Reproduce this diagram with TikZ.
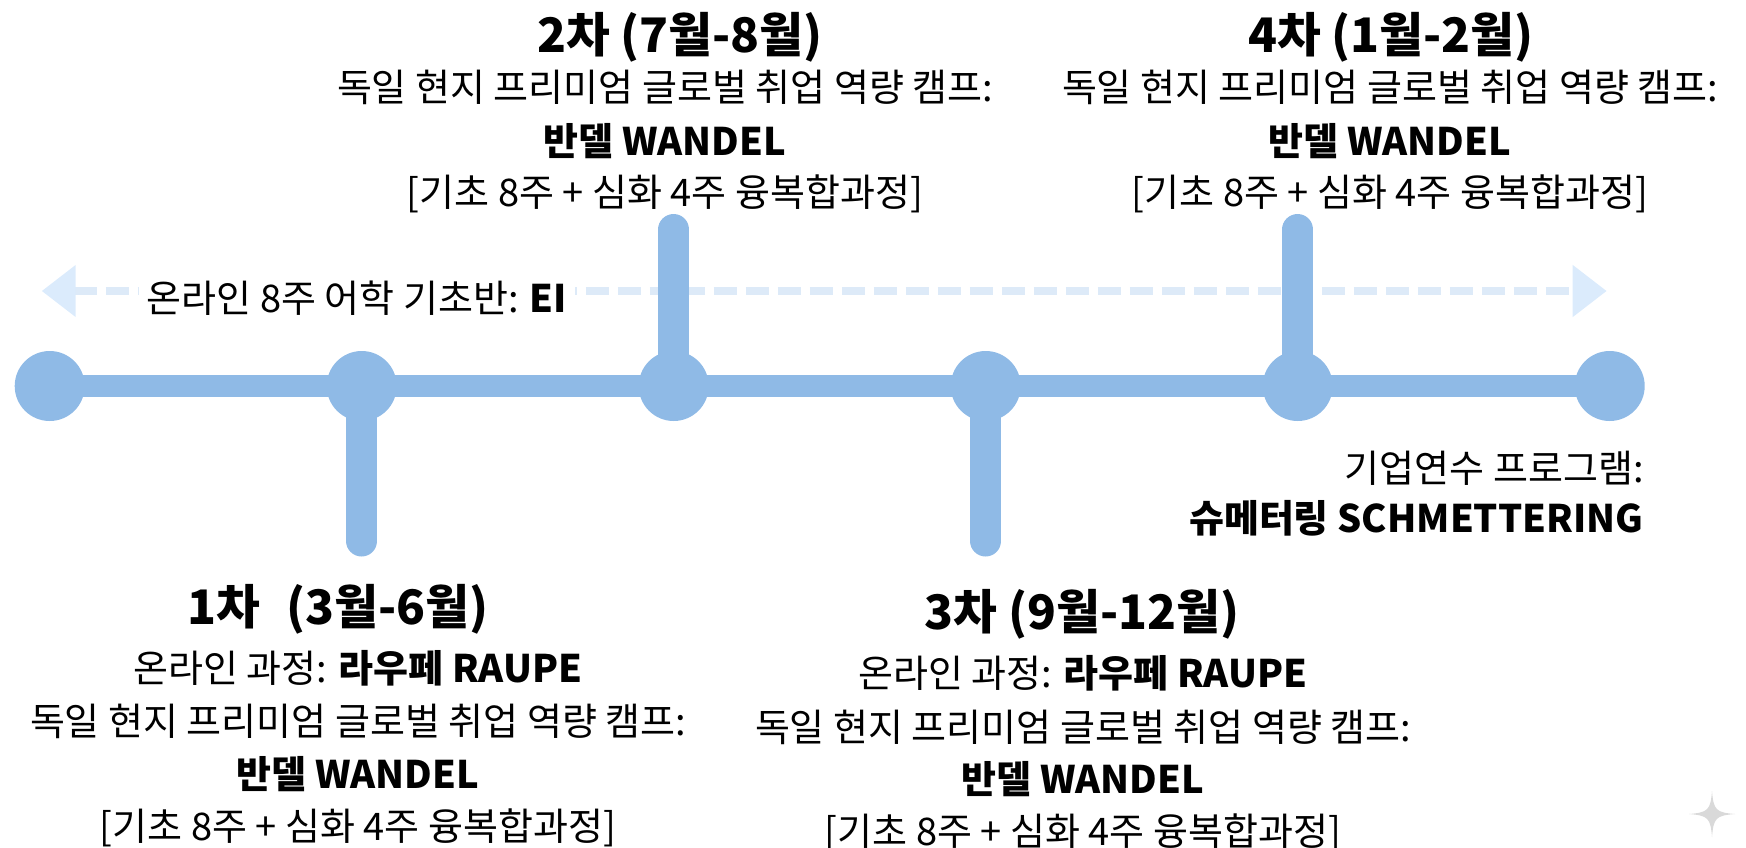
\documentclass[tikz,border=0pt]{standalone}
\usepackage{fontspec}
\setmainfont{Noto Sans CJK KR}
\usetikzlibrary{arrows.meta}
\definecolor{tl}{RGB}{143,186,230}
\definecolor{dashc}{RGB}{221,234,248}
\definecolor{tipc}{RGB}{219,235,252}
\definecolor{spark}{RGB}{217,217,217}
\tikzset{
  dot/.style={circle,fill=tl,inner sep=0pt,minimum size=35pt},
  mainline/.style={draw=tl,line width=11pt},
  stem/.style={draw=tl,line width=15.5pt,line cap=round},
  head/.style={anchor=base,inner sep=0pt,font=\fontsize{23.8pt}{28pt}\selectfont\bfseries},
  body/.style={anchor=base,inner sep=0pt,font=\fontsize{19pt}{22pt}\selectfont},
  bodyr/.style={anchor=base east,inner sep=0pt,font=\fontsize{19pt}{22pt}\selectfont},
}
\begin{document}
\begin{tikzpicture}[x=0.5pt,y=-0.5pt]
\useasboundingbox (0,0) rectangle (1746,847);
% dashed arrow
\coordinate (al) at (41.7,291);
\coordinate (ar) at (1606.7,291);
\draw[dashc,line width=4pt,dash pattern=on 11.5pt off 4.5pt,
  {Triangle[length=17pt,width=25pt,fill=tipc,color=tipc]}-{Triangle[length=17pt,width=25pt,fill=tipc,color=tipc]}] (al) -- (ar);
\node[body,fill=white,inner xsep=4pt,inner ysep=2pt,anchor=base] (ei) at (357,312) {온라인 8주 어학 기초반: \textbf{EI}};
% timeline
\foreach \i/\x in {1/49.7,2/361.7,3/673.7,4/985.7,5/1297.7,6/1609.7}{
  \coordinate (p\i) at (\x,386);
}
\coordinate (s2) at (361.7,541);
\coordinate (s3) at (673.7,229.5);
\coordinate (s4) at (985.7,541);
\coordinate (s5) at (1297.7,229.5);
\draw[mainline] (p1) -- (p6);
\draw[stem] (p2) -- (s2);
\draw[stem] (p3) -- (s3);
\draw[stem] (p4) -- (s4);
\draw[stem] (p5) -- (s5);
\foreach \i in {1,...,6}{ \node[dot] (c\i) at (p\i) {}; }
% group 2 (top)
\node[head] (g2h) at (680,52) {2차 (7월-8월)};
\node[body] (g2a) at (665,101) {독일 현지 프리미엄 글로벌 취업 역량 캠프:};
\node[body] (g2b) at (665,155) {\textbf{반델 WANDEL}};
\node[body] (g2c) at (665,206) {[기초 8주 + 심화 4주 융복합과정]};
% group 4 (top)
\node[head] (g4h) at (1391,52) {4차 (1월-2월)};
\node[body] (g4a) at (1390,101) {독일 현지 프리미엄 글로벌 취업 역량 캠프:};
\node[body] (g4b) at (1390,155) {\textbf{반델 WANDEL}};
\node[body] (g4c) at (1390,206) {[기초 8주 + 심화 4주 융복합과정]};
% group 1 (bottom)
\node[head] (g1h) at (338,624) {1차\hspace{0.55em}(3월-6월)};
\node[body] (g1a) at (358,682) {온라인 과정: \textbf{라우페 RAUPE}};
\node[body] (g1b) at (358,735) {독일 현지 프리미엄 글로벌 취업 역량 캠프:};
\node[body] (g1c) at (358,788) {\textbf{반델 WANDEL}};
\node[body] (g1d) at (358,840) {[기초 8주 + 심화 4주 융복합과정]};
% group 3 (bottom)
\node[head] (g3h) at (1082,629) {3차 (9월-12월)};
\node[body] (g3a) at (1083,687) {온라인 과정: \textbf{라우페 RAUPE}};
\node[body] (g3b) at (1083,741) {독일 현지 프리미엄 글로벌 취업 역량 캠프:};
\node[body] (g3c) at (1083,793) {\textbf{반델 WANDEL}};
\node[body] (g3d) at (1083,845) {[기초 8주 + 심화 4주 융복합과정]};
% group 5
\node[bodyr] (g5a) at (1644,482) {기업연수 프로그램:};
\node[bodyr] (g5b) at (1644,532) {\textbf{슈메터링 SCHMETTERING}};
% sparkle
\fill[spark] (1712,791) .. controls (1713.5,810) and (1716,812.5) .. (1735,814)
  .. controls (1716,815.5) and (1713.5,818) .. (1712,837)
  .. controls (1710.5,818) and (1708,815.5) .. (1689,814)
  .. controls (1708,812.5) and (1710.5,810) .. (1712,791) -- cycle;
\end{tikzpicture}
\end{document}
